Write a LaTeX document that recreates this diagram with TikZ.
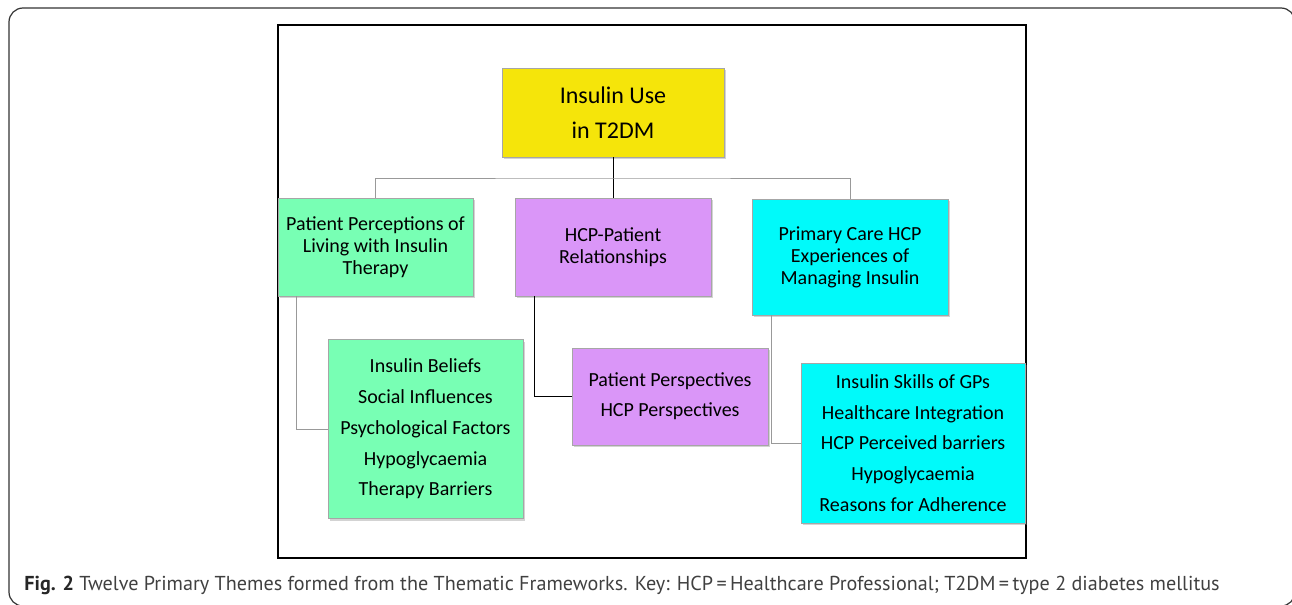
\documentclass[tikz,border=0pt]{standalone}
\usepackage{fontspec}
\setmainfont{Carlito}
\newfontfamily\capfont{PT Sans}
\usetikzlibrary{shadows}
\definecolor{rootyellow}{RGB}{245,229,10}
\definecolor{themegreen}{RGB}{120,255,180}
\definecolor{themepurple}{RGB}{218,150,248}
\definecolor{themecyan}{RGB}{0,250,250}
\begin{document}
\begin{tikzpicture}[x=0.5pt, y=-0.5pt,
    box/.style={draw=gray!70, line width=0.4pt, align=center, inner sep=0pt, font=\fontsize{10}{11}\selectfont,
                drop shadow={opacity=0.35, shadow xshift=1pt, shadow yshift=-1pt}},
    sublist/.style={box, font=\fontsize{10}{15.4}\selectfont},
    link/.style={gray!80, line width=0.5pt},
    darklink/.style={black, line width=0.5pt}]
\useasboundingbox (0,0) rectangle (1292,605);
\draw[line width=0.6pt, black!80, rounded corners=7pt] (9,8) rectangle (1295,606);
\draw[line width=0.7pt] (278,25) rectangle (1026,558);

% main theme
\node[box, fill=rootyellow, minimum width=111pt, minimum height=44.5pt, font=\fontsize{12}{17.5}\selectfont]
    (insulin) at (613,112.5) {Insulin Use\\in T2DM};

% three branches
\node[box, fill=themegreen, minimum width=97.5pt, minimum height=49pt] (patient) at (375.5,247)
    {Patient Perceptions of\\Living with Insulin\\Therapy};
\node[box, fill=themepurple, minimum width=98pt, minimum height=49pt] (relation) at (613,247)
    {HCP-Patient\\Relationships};
\node[box, fill=themecyan, minimum width=98pt, minimum height=58pt] (primary) at (850,257)
    {Primary Care HCP\\Experiences of\\Managing Insulin};

% sub themes
\node[sublist, fill=themegreen, minimum width=97.5pt, minimum height=89.5pt] (patientsub) at (425.5,429)
    {Insulin Beliefs\\Social Influences\\Psychological Factors\\Hypoglycaemia\\Therapy Barriers};
\node[sublist, fill=themepurple, minimum width=98pt, minimum height=48.5pt, font=\fontsize{10}{15}\selectfont]
    (relationsub) at (670,396.5) {Patient Perspectives\\HCP Perspectives};
\node[sublist, fill=themecyan, minimum width=112pt, minimum height=80pt] (primarysub) at (913,443)
    {Insulin Skills of GPs\\Healthcare Integration\\HCP Perceived barriers\\Hypoglycaemia\\Reasons for Adherence};

% connectors
\coordinate (bus) at (613,178);
\draw[darklink] (insulin.south) -- (relation.north);
\draw[link] (patient.north) |- (bus) -| (primary.north);
\draw[link] ([xshift=9.5pt]patient.south west) |- (patientsub.west);
\draw[darklink] ([xshift=10pt]relation.south west) |- (relationsub.west);
\draw[link] ([xshift=10pt]primary.south west) |- (primarysub.west);

% caption
\node[anchor=west, inner sep=0pt, font=\capfont\fontsize{10.08}{12}\selectfont, text=black!75] (caption) at (24,585)
    {\textbf{\color{black!85}Fig. 2} Twelve Primary Themes formed from the Thematic Frameworks. Key: HCP\,=\,Healthcare Professional; T2DM\,=\,type 2 diabetes mellitus};
\end{tikzpicture}
\end{document}
